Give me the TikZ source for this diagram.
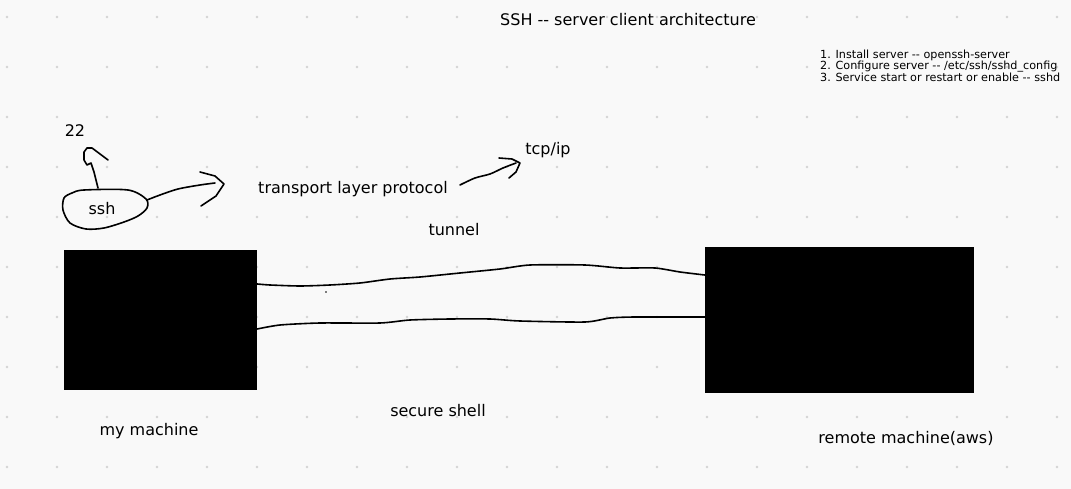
\documentclass[tikz,border=0pt]{standalone}
\usepackage{fontspec}
\setmainfont{DejaVu Sans}
\definecolor{bgpaper}{HTML}{F9F9F9}
\definecolor{griddot}{HTML}{D4D4D4}
\tikzset{
  label/.style={font=\fontsize{16}{18}\selectfont, inner sep=0pt},
  pen/.style={line width=1.6pt, line cap=round, line join=round},
  machine/.style={fill=black, draw=none, inner sep=0pt}
}
\begin{document}
\begin{tikzpicture}[x=1pt, y=-1pt]

    % 背景
    \fill[bgpaper] (0,0) rectangle (1071,489);
    \useasboundingbox (0,0) rectangle (1071,489);
    \foreach \x in {7,57,...,1057} {
        \foreach \y in {17,67,...,467} {
            \fill[griddot] (\x,\y) circle (1.3pt);
        }
    }

    % 标题和步骤
    \node[label] (title) at (628,20) {SSH -{}- server client architecture};
    \node[anchor=north west, align=left, inner sep=0pt,
          font=\fontsize{11.2}{11}\selectfont] (steps) at (820,50) {
        1. Install server -{}- openssh-server\\
        2. Configure server -{}- /etc/ssh/sshd\_config\\
        3. Service start or restart or enable -{}- sshd
    };

    % --------------------------
    % 本机
    % --------------------------
    \node[machine, minimum width=193pt, minimum height=140pt] (mine) at (160.5,320) {};
    \node[label] (minename) at (149,431) {my machine};

    % ssh 进程
    \node[label] (ssh) at (102,209) {ssh};
    \draw[pen] plot[smooth cycle, tension=0.5] coordinates {
        (72,193) (84,190) (128,190) (146,199) (147,208) (138,216)
        (124,222) (104,228) (86,229) (70,223) (63,210) (64,198)};
    \node[label] (port) at (75,131) {22};
    \coordinate (porttip) at (87,148);
    \draw[pen] (98,188) -- (94,172) -- (91,163) -- (87,165) -- (84,160)
        -- (84,152) -- (porttip) -- (92,148) -- (108,160);

    % 传输层协议
    \node[label] (proto) at (353,189) {transport layer protocol};
    \coordinate (prototip) at (224,184);
    \draw[pen] plot[smooth, tension=0.5] coordinates {
        (147,200) (160,195) (178,189) (200,185) (215,183)};
    \draw[pen] (200,172) -- (215,176) -- (prototip) -- (216,196) -- (201,206);

    \node[label] (tcpip) at (548,150) {tcp/ip};
    \coordinate (tcptip) at (520,163);
    \draw[pen] plot[smooth, tension=0.5] coordinates {
        (460,185) (475,178) (490,174) (503,168) (516,163)};
    \draw[pen] (499,158) -- (512,159) -- (tcptip) -- (516,172) -- (509,178);

    % --------------------------
    % 远程机器
    % --------------------------
    \node[machine, minimum width=269pt, minimum height=146pt] (remote) at (839.5,320) {};
    \node[label] (remotename) at (906,438) {remote machine(aws)};

    % 隧道
    \node[label] (tunnel) at (454,230) {tunnel};
    \draw[pen] plot[smooth, tension=0.4] coordinates {
        ([yshift=36pt]mine.east) (270,285) (300,286) (330,285) (360,283) (390,279)
        (420,277) (460,273) (500,269) (530,265) (585,265) (620,268)
        (655,268) (680,272) ([yshift=45pt]remote.west)};
    \draw[pen] plot[smooth, tension=0.4] coordinates {
        ([yshift=-9pt]mine.east) (280,325) (320,323) (380,323) (410,320)
        (450,319) (490,319) (520,321) (585,322) (610,318) (635,317)
        ([yshift=3pt]remote.west)};
    \fill (326,292) circle (0.9pt);
    \node[label] (shell) at (438,411) {secure shell};

\end{tikzpicture}
\end{document}
